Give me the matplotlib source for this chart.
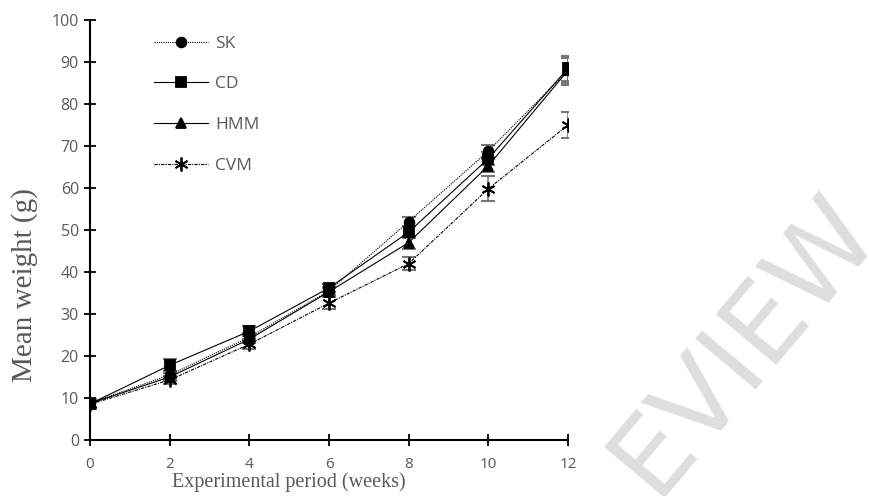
import matplotlib
matplotlib.use("Agg")
import matplotlib.pyplot as plt
from matplotlib import font_manager

weeks = [0, 2, 4, 6, 8, 10, 12]
sk = [8.8, 15.5, 24.5, 35.5, 52.0, 68.8, 88.0]
cd = [8.6, 17.8, 25.9, 36.2, 49.5, 67.0, 88.5]
hmm = [8.7, 15.0, 24.0, 35.3, 47.0, 65.3, 88.0]
cvm = [8.5, 14.3, 22.8, 32.6, 42.0, 59.8, 75.0]
sk_err = [1.0, 1.0, 1.0, 1.0, 1.0, 1.5, 3.5]
cd_err = [1.0, 1.5, 1.2, 1.0, 1.5, 1.5, 3.0]
hmm_err = [1.0, 1.0, 1.0, 1.0, 1.5, 1.5, 3.0]
cvm_err = [1.0, 1.0, 1.2, 1.5, 1.5, 3.0, 3.0]
series_names = ["SK", "CD", "HMM", "CVM"]
xtick_labels = ["0", "2", "4", "6", "8", "10", "12"]
ytick_values = [0, 10, 20, 30, 40, 50, 60, 70, 80, 90, 100]

fig = plt.figure(figsize=(8.69, 4.96), dpi=100)
ax = fig.add_axes([90/869, 56/496, 478/869, 420/496])
ax.set_facecolor("none")

styles = [
    dict(marker="o", linestyle=(0, (1, 1)), ms=7),
    dict(marker="s", linestyle="-", ms=7),
    dict(marker="^", linestyle="-", ms=7),
    dict(marker=(6, 2, 0), linestyle=(0, (3, 1, 1, 1)), ms=10),
]
data = [sk, cd, hmm, cvm]
errs = [sk_err, cd_err, hmm_err, cvm_err]

for name, y, e, st in zip(series_names, data, errs, styles):
    ax.errorbar(weeks, y, yerr=e, fmt="none", ecolor="#777777", elinewidth=1.2,
                capsize=5, capthick=1.5, zorder=2)
    ax.plot(weeks, y, color="black", lw=0.8, linestyle=st["linestyle"],
            marker=st["marker"], ms=st["ms"], mfc="black", mec="black", mew=1.3,
            label=name, zorder=3)

ax.set_xlim(0, 12)
ax.set_ylim(0, 100)
ax.set_xticks(weeks)
ax.set_xticklabels(xtick_labels)
ax.set_yticks(ytick_values)
for s in ["top", "right"]:
    ax.spines[s].set_visible(False)
for s in ["left", "bottom"]:
    ax.spines[s].set_linewidth(1.5)
    ax.spines[s].set_color("black")
ax.tick_params(axis="both", direction="inout", length=8, width=1.3,
               colors="black", labelcolor="#595959", labelsize=11.5)
ax.tick_params(axis="x", pad=8, labelsize=11)
ax.tick_params(axis="y", pad=4)
for lab in ax.get_xticklabels() + ax.get_yticklabels():
    lab.set_fontfamily("Open Sans")

ax.set_xlabel("Experimental period (weeks)", fontfamily="Liberation Serif",
              fontsize=14.5, color="#595959")
ax.xaxis.set_label_coords(0.416, -0.076)
ax.set_ylabel("Mean weight (g)", fontfamily="Liberation Serif",
              fontsize=21, color="#595959")
ax.yaxis.set_label_coords(-0.108, 0.369)

leg = ax.legend(loc="upper left", bbox_to_anchor=(0.102, 1.0), frameon=False,
                prop={"family": "Open Sans", "size": 12.5}, handlelength=3.1,
                labelspacing=1.41, handletextpad=0.4)
for t in leg.get_texts():
    t.set_color("#595959")

names = {f.name for f in font_manager.fontManager.ttflist}
wm_font = "Liberation Sans Narrow" if "Liberation Sans Narrow" in names else "DejaVu Sans"
fig.text(0.856, 0.305, "EVIEW", fontsize=78, color="#dedede", rotation=50,
         ha="center", va="center", fontfamily=wm_font, zorder=-1)

fig.savefig("out.png", dpi=100)
